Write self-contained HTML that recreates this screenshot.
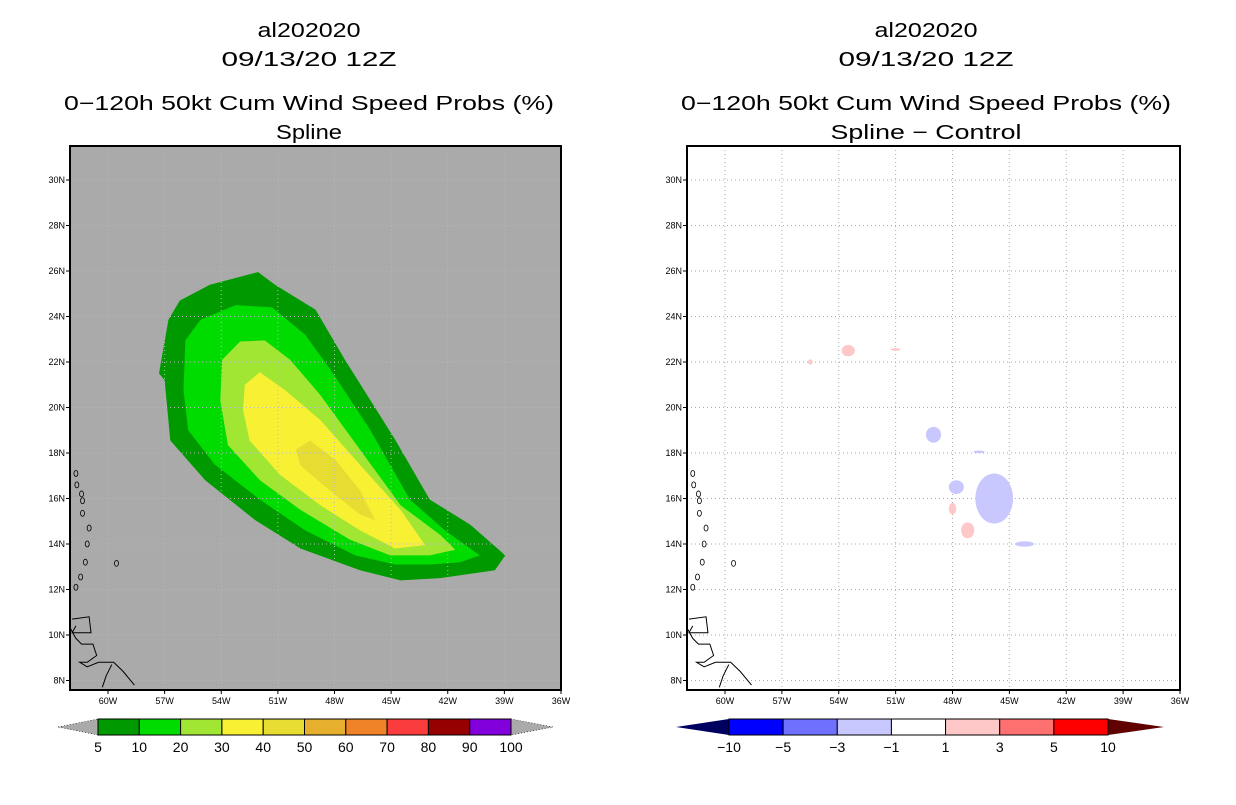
<!DOCTYPE html>
<html><head><meta charset="utf-8"><style>
body{margin:0;background:#fff;width:1236px;height:800px;overflow:hidden}
svg text{font-family:"Liberation Sans",sans-serif}
</style></head><body>
<svg id="s" width="1236" height="800" xmlns="http://www.w3.org/2000/svg"></svg>
<script>
const lonTicks=[-60,-57,-54,-51,-48,-45,-42,-39,-36];
const latTicks=[8,10,12,14,16,18,20,22,24,26,28,30];
const probLevels=['5','10','20','30','40','50','60','70','80','90','100'];
const probColors=['#009a00','#00dc00','#a0e632','#f8f032','#e6dc32','#e6af2d','#f08228','#fa3c3c','#960000','#8200dc'];
const diffLevels=['-10','-5','-3','-1','1','3','5','10'];
const diffColors=['#0000ff','#7070ff','#c8c8ff','#ffffff','#ffc8c8','#ff7070','#ff0000'];
const c5=[[-56.8,23.85],[-56.2,24.7],[-54.6,25.4],[-52.05,25.95],[-51.15,25.4],[-49.0,24.3],[-47.45,22.1],[-44.8,18.6],[-42.95,15.95],[-40.8,14.85],[-38.95,13.5],[-39.5,12.85],[-42.4,12.5],[-44.5,12.4],[-46.65,12.85],[-49.8,13.8],[-52.2,15.05],[-54.85,16.8],[-56.7,18.55],[-57.0,21.2],[-57.3,21.5]];
const c10=[[-55.9,22.95],[-55.1,23.85],[-53.25,24.5],[-51.3,24.4],[-49.55,23.2],[-48.2,21.65],[-46.1,19.0],[-44.0,15.95],[-42.15,14.6],[-40.3,13.5],[-41.35,13.2],[-42.95,13.1],[-44.8,13.1],[-46.9,13.5],[-49.55,14.6],[-51.95,15.95],[-54.35,17.5],[-55.75,19.0],[-56.0,20.75]];
const c20=[[-53.95,22.1],[-53.0,22.9],[-51.7,22.95],[-50.35,22.1],[-48.75,20.55],[-46.65,18.15],[-44.5,15.7],[-42.4,14.4],[-41.6,13.75],[-42.95,13.5],[-45.05,13.5],[-47.2,14.2],[-49.8,15.5],[-51.95,16.8],[-53.65,18.35],[-54.05,20.3]];
const c30=[[-52.75,21.0],[-51.95,21.55],[-50.6,20.75],[-48.75,19.45],[-46.4,17.25],[-44.5,15.5],[-43.2,13.95],[-44.8,13.8],[-46.65,14.6],[-48.75,15.7],[-50.9,17.05],[-52.5,18.55],[-52.85,19.9]];
const c40=[[-50.05,18.15],[-49.3,18.55],[-47.95,17.7],[-46.65,16.35],[-45.85,15.05],[-46.65,15.3],[-48.25,16.35],[-49.8,17.45]];
const diffBlobs=[[-55.5,22.0,0.12,0.12,4],[-53.5,22.5,0.35,0.25,4],[-51.0,22.55,0.25,0.06,4],[-48.0,15.55,0.2,0.25,4],[-47.2,14.6,0.35,0.35,4],[-49.0,18.8,0.4,0.35,2],[-47.8,16.5,0.4,0.3,2],[-45.8,16.0,1.0,1.1,2],[-44.2,14.0,0.5,0.12,2],[-46.6,18.05,0.3,0.06,2]];
const islands=[[-61.7,17.1],[-61.65,16.6],[-61.4,16.2],[-61.35,15.9],[-61.35,15.35],[-61.0,14.7],[-61.1,14.0],[-59.55,13.15],[-61.2,13.2],[-61.45,12.55],[-61.7,12.1]];
const coast1=[[-62.0,10.3],[-61.7,9.85],[-61.4,9.6],[-60.8,9.6],[-60.6,9.1],[-61.1,8.8],[-61.5,8.8],[-61.1,8.6],[-60.5,8.8],[-59.7,8.8],[-59.2,8.4],[-58.6,7.8]];
const coast2=[[-59.8,8.7],[-60.1,8.2],[-60.3,7.7]];
const trin=[[-61.9,10.7],[-61.0,10.8],[-60.9,10.1],[-61.9,10.1],[-61.7,10.4]];

const S=document.getElementById('s');const NS='http://www.w3.org/2000/svg';
function el(t,a,p){const e=document.createElementNS(NS,t);for(const k in a)e.setAttribute(k,a[k]);(p||S).appendChild(e);return e;}
function txt(x,y,s,size,anchor,p,len){const a={x:x,y:y,'font-size':size,'text-anchor':anchor||'middle',fill:'#000'};if(len){a.textLength=len;a.lengthAdjust='spacingAndGlyphs';}const e=el('text',a,p);e.textContent=s;return e;}

function panel(ox,ow,name){
  const g=el('g',{});
  
  
  const x0=ox, w=ow, y0=146, h=544;
  const X=lon=>x0+38+(lon+60)*(w-38)/24;
  const Y=lat=>180+(30-lat)*22.75;
  return {g,x0,w,y0,h,X,Y};
}
function ring(P,pts,fill,name){
  const d=pts.map((p,i)=>(i?'L':'M')+P.X(p[0]).toFixed(1)+','+P.Y(p[1]).toFixed(1)).join('')+'Z';
  const e=el('path',{d:d,fill:fill,stroke:'none'},P.g);
  
  
}
function axes(P,grid,gcol){
  const cp='c'+P.x0;
  const cl=el('clipPath',{id:cp},P.g);el('rect',{x:P.x0,y:P.y0,width:P.w,height:P.h},cl);
  const gg=el('g',{'clip-path':'url(#'+cp+')'},P.g);
  if(grid){
    lonTicks.forEach(l=>el('line',{x1:P.X(l),x2:P.X(l),y1:P.y0,y2:P.y0+P.h,stroke:gcol,'stroke-dasharray':'1,3','stroke-width':1},gg));
    latTicks.forEach(l=>el('line',{x1:P.x0,x2:P.x0+P.w,y1:P.Y(l),y2:P.Y(l),stroke:gcol,'stroke-dasharray':'1,3','stroke-width':1},gg));
  }
  islands.forEach(p=>el('ellipse',{cx:P.X(p[0]),cy:P.Y(p[1]),rx:2,ry:3,fill:'none',stroke:'#000','stroke-width':0.8},gg));
  [coast1,coast2,trin].forEach(c=>el('polyline',{points:c.map(p=>P.X(p[0])+','+P.Y(p[1])).join(' '),fill:'none',stroke:'#000','stroke-width':1},gg));
  const fr=el('rect',{x:P.x0,y:P.y0,width:P.w,height:P.h,fill:'none',stroke:'#000','stroke-width':2},P.g);
  
  lonTicks.forEach(l=>{el('line',{x1:P.X(l),x2:P.X(l),y1:P.y0+P.h,y2:P.y0+P.h+4,stroke:'#000'},P.g);
    txt(P.X(l),P.y0+P.h+14,(-l)+'W',9,'middle',P.g);});
  latTicks.forEach(l=>{el('line',{x1:P.x0-4,x2:P.x0,y1:P.Y(l),y2:P.Y(l),stroke:'#000'},P.g);
    txt(P.x0-5,P.Y(l)+3,l+'N',9,'end',P.g);});
}
function titles(cx,l4,l4len){
  const t=el('g',{});
  
  txt(cx,37,'al202020',20,'middle',t,103);txt(cx,66,'09/13/20 12Z',20,'middle',t,175);
  txt(cx,110,'0\u2212120h 50kt Cum Wind Speed Probs (%)',20,'middle',t,490);txt(cx,139,l4,20,'middle',t,l4len);
}
titles(309,'Spline',66);
const L=panel(70,491,'spline-map');
el('rect',{x:70,y:146,width:491,height:544,fill:'#aaaaaa'},L.g);
ring(L,c5,probColors[0],'contour-5');ring(L,c10,probColors[1],'contour-10');ring(L,c20,probColors[2],'contour-20');ring(L,c30,probColors[3],'contour-30');ring(L,c40,probColors[4],'contour-40');
axes(L,true,'#bbbbbb');
titles(926,'Spline \u2212 Control',191);
const R=panel(687,493,'difference-map');
el('rect',{x:687,y:146,width:493,height:544,fill:'#fff'},R.g);
axes(R,true,'#aaaaaa');
diffBlobs.forEach(b=>{const e=el('ellipse',{cx:R.X(b[0]),cy:R.Y(b[1]),rx:b[2]*18.9,ry:b[3]*22.75,fill:diffColors[b[4]]},R.g);
  });
function cbar(x0,x1,tipL,tipR,cols,labs,lc,rc,name,first){
  const g=el('g',{});
  const y0=719,y1=735,ym=727;const n=cols.length,bw=(x1-x0)/n;
  el('polygon',{points:`${tipL},${ym} ${x0},${y0} ${x0},${y1}`,fill:lc,stroke:lc==='#aaaaaa'?'#000':'none','stroke-dasharray':'1,2','stroke-width':0.6},g);
  el('polygon',{points:`${tipR},${ym} ${x1},${y0} ${x1},${y1}`,fill:rc,stroke:rc==='#aaaaaa'?'#000':'none','stroke-dasharray':'1,2','stroke-width':0.6},g);
  cols.forEach((c,i)=>el('rect',{x:x0+i*bw,y:y0,width:bw,height:y1-y0,fill:c,stroke:'#000','stroke-width':1},g));
  labs.forEach((s,i)=>txt(x0+(i+first)*bw,752,s.replace('-','\u2212'),14,'middle',g));
}
cbar(98,511,58,553,probColors,probLevels,'#aaaaaa','#aaaaaa','probability-colorbar',0);
cbar(729,1108,676,1164,diffColors,diffLevels,'#000060','#600000','difference-colorbar',0);
</script>
</body></html>
